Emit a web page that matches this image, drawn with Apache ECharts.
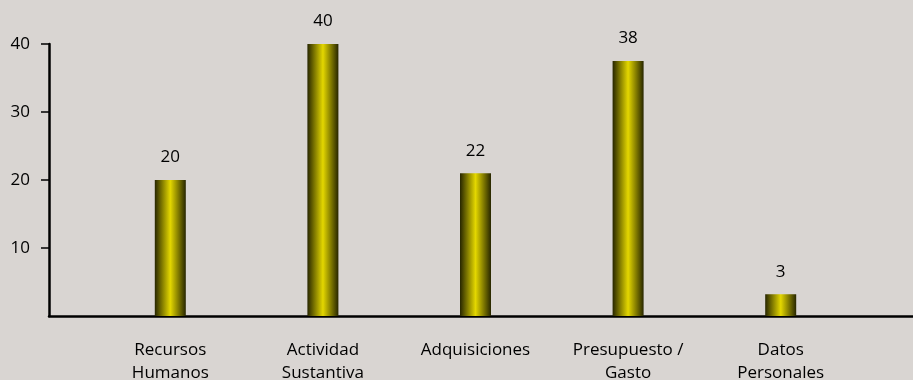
<!DOCTYPE html>
<html>
<head>
<meta charset="utf-8">
<script src="https://cdn.jsdelivr.net/npm/echarts@6/dist/echarts.min.js"></script>
<style>
  html, body { margin: 0; padding: 0; background: #d9d5d2; }
  #chart { width: 913px; height: 380px; }
</style>
</head>
<body>
<div id="chart"></div>
<script>
// categories and values
const categories = ['Recursos\nHumanos', 'Actividad\nSustantiva', 'Adquisiciones', 'Presupuesto /\nGasto', 'Datos\nPersonales']
// bar heights as drawn
const barValues = [20, 40, 21, 37.5, 3.2]
// numbers printed above the bars
const barLabels = [20, 40, 22, 38, 3]
const yTicks = [10, 20, 30, 40]

const chart = echarts.init(document.getElementById('chart'))
const font = 'Open Sans'

const option = {
  backgroundColor: '#d9d5d2',
  animation: false,
  grid: [
    // axes frame
    { left: 49, right: 0, top: 44, bottom: 64, outerBoundsMode: 'none' },
    // bars
    { left: 94, right: 56, top: 44, bottom: 64, outerBoundsMode: 'none' }
  ],
  xAxis: [
    {
      type: 'value',
      gridIndex: 0,
      min: 0,
      max: 1,
      axisLine: { show: true, lineStyle: { color: '#000', width: 2.5 } },
      axisTick: { show: false },
      axisLabel: { show: false },
      splitLine: { show: false }
    },
    {
      type: 'category',
      gridIndex: 1,
      data: categories,
      axisLine: { show: false },
      axisTick: { show: false },
      axisLabel: {
        color: '#000',
        fontFamily: font,
        fontSize: 17,
        lineHeight: 23,
        margin: 23,
        interval: 0
      }
    }
  ],
  yAxis: [
    {
      type: 'value',
      gridIndex: 0,
      min: 0,
      max: 40,
      interval: 10,
      axisLine: { show: true, lineStyle: { color: '#000', width: 2.5 } },
      axisTick: {
        show: true,
        length: 8,
        customValues: yTicks,
        lineStyle: { color: '#000', width: 1.5 }
      },
      axisLabel: {
        color: '#000',
        fontFamily: font,
        fontSize: 17,
        margin: 19,
        customValues: yTicks
      },
      splitLine: { show: false }
    },
    {
      type: 'value',
      gridIndex: 1,
      min: 0,
      max: 40,
      show: false
    }
  ],
  series: [
    {
      type: 'bar',
      xAxisIndex: 1,
      yAxisIndex: 1,
      data: barValues,
      barWidth: 31,
      itemStyle: {
        color: new echarts.graphic.LinearGradient(0, 0, 1, 0, [
          { offset: 0, color: '#272600' },
          { offset: 0.5, color: '#e4d700' },
          { offset: 1, color: '#272600' }
        ])
      },
      label: {
        show: true,
        position: 'top',
        distance: 14,
        color: '#000',
        fontFamily: font,
        fontSize: 17,
        formatter: p => String(barLabels[p.dataIndex])
      }
    }
  ]
}

chart.setOption(option)
</script>
</body>
</html>
